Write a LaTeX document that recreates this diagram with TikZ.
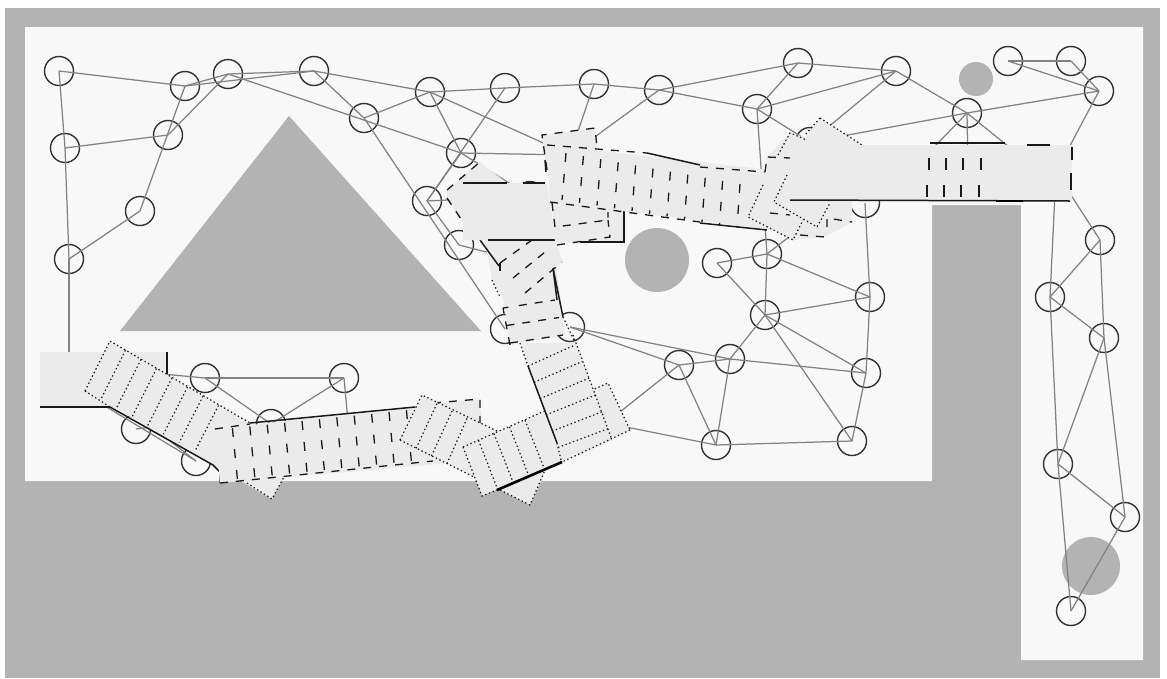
\documentclass[tikz,border=0pt]{standalone}
\usepackage{xcolor}
\definecolor{WallGray}{RGB}{179,179,179}
\definecolor{FreeGray}{RGB}{248,248,248}
\definecolor{FootGray}{RGB}{235,235,235}
\definecolor{LinkGray}{RGB}{130,130,130}
\definecolor{RingGray}{RGB}{50,50,50}
\begin{document}
\begin{tikzpicture}[x=1pt,y=-1pt,
    wp/.style={circle, draw=RingGray, line width=1.4pt, minimum size=29pt, inner sep=0pt},
    link/.style={draw=LinkGray, line width=1.25pt},
    foot/.style={fill=FootGray, draw=none},
    dotline/.style={draw=black!90, line width=1.2pt, dash pattern=on 1.4pt off 2.6pt},
    dashline/.style={draw=black!90, line width=1.3pt, dash pattern=on 8pt off 8pt},
    rungline/.style={draw=black!90, line width=1.3pt, dash pattern=on 9pt off 12pt},
    solidline/.style={draw=black!90, line width=1.5pt},
    thickline/.style={draw=black, line width=2.6pt}
  ]
  \useasboundingbox (0,0) rectangle (1167,678);
  % map
  \fill[white] (0,0) rectangle (1167,678);
  \fill[WallGray] (5,8) rectangle (1160,678);
  \fill[FreeGray] (25,27) -- (1143,27) -- (1143,660) -- (1021,660) -- (1021,205)
    -- (932,205) -- (932,481) -- (25,481) -- cycle;
  \fill[WallGray] (289,116) -- (481,331) -- (120,331) -- cycle;
  \fill[WallGray] (657,260) circle (32);
  \fill[WallGray] (976,79) circle (17);
  \fill[WallGray] (1091,566) circle (29);

  % waypoints
  \foreach \name/\x/\y in {
      a1/59/71, a2/185/86, a3/228/74, a4/314/71, a5/364/118, a6/430/92,
      a7/505/88, a8/594/84, a9/659/90, a10/757/109, a11/798/63, a12/896/71,
      a13/967/113, a14/1008/61, a15/1071/61, a16/1099/91,
      b1/65/148, b2/168/135, b3/140/211, b4/69/259,
      c1/461/153, c2/427/201, c3/459/245, c4/530/196, c5/505/329, c6/570/327,
      c7/525/262, c8/606/423, c9/570/155,
      d1/865/203, d2/767/254, d3/717/263, d4/765/315, d5/870/297, d6/866/373,
      d7/730/359, d8/679/365, d9/716/445, d10/852/441, d11/810/142, d12/830/205,
      e1/205/378, e2/344/378, e3/271/424, e4/136/429, e5/196/461,
      e8/349/432, e9/120/370,
      f1/1100/240, f2/1050/297, f3/1104/338, f4/1058/464, f5/1125/517,
      f6/1071/611, f7/1056/172, f8/910/172, f9/968/172, f10/1040/172}
    \node[wp] (\name) at (\x,\y) {};
  \coordinate (startdoor) at (69,360);
  \coordinate (doorlow) at (100,403);
  \coordinate (doorside) at (152,427);

  % connections
  \foreach \u/\v in {
      a1/a2, a1/b1, b1/b4, b4/startdoor, b1/b2, b3/b4, b3/a2, b2/a3, a2/a3, a2/a4, a3/a4,
      a3/c1, a4/a5, a4/a6, a5/a6, a5/c5, a6/a7, a6/c1, a6/c9, a7/c2, a7/a8,
      a8/a9, a8/c9, a9/a10, a9/a11, a9/c9, a10/a11, a10/a12, a10/d11, a10/d2,
      a11/a12, a12/d11, a12/a13, a13/d11, a13/a16, a13/f8, a13/f9, a13/f10,
      a14/a15, a14/a16, a15/a16, a16/f7, f7/f1, f7/f2, f1/f2, f1/f3, f2/f3,
      f2/f4, f3/f4, f3/f5, f4/f5, f4/f6, f5/f6,
      c1/c2, c1/c4, c1/c9, c2/c3, c2/c4, c3/c7, d2/d3, d3/d4, d2/d4, d2/d5, d2/d12,
      d4/d5, d4/d6, d4/d10, d4/d7, d7/d6, d7/d8, d7/d9, d8/d9, d9/d10, d10/d6,
      d6/d5, d5/d1, c6/d8, c6/d7, d8/c8, d9/c8,
      e1/e9, e1/e2, e1/e3, e2/e3, e2/e8, e4/doorside, e5/doorside, e5/doorlow}
    \draw[link] (\u.center) -- (\v.center);

  % start block, lower left
  \fill[foot] (40,352) rectangle (167,407);
  \draw[solidline] (40,407) -- (110,407);
  \draw[solidline] (167,352) -- (167,378);

  % first turn
  \fill[foot] (110,341) -- (252,424) -- (297,453) -- (272,499) -- (85,391) -- cycle;
  \draw[dotline] (85,391) -- (110,341) -- (250,423);
  \draw[dotline] (85,391) -- (110,407);
  \draw[dotline] (247,483) -- (272,499) -- (285,475);
  \draw[solidline] (110,407) -- (213,465) -- (220,472) -- (220,483);
  \foreach \i in {1,...,7}
    \draw[dotline] ({110+15.5*\i},{341+9.2*\i}) -- ({85+15.7*\i},{391+8.6*\i});

  % long lower band
  \fill[foot] (215,429) -- (480,399) -- (484,460) -- (220,483) -- cycle;
  \draw[dashline] (215,429) -- (250,424);
  \draw[solidline] (250,423) -- (415,407);
  \draw[dashline] (433,403) -- (480,399) -- (480,426);
  \draw[dashline] (220,483) -- (433,461);
  \foreach \i in {1,...,11}
    \draw[rungline] ({215+17.4*\i},{430-1.8*\i}) -- ({220+17.4*\i},{481-1.8*\i});

  % lower turn
  \fill[foot] (422,395) -- (552,458) -- (530,505) -- (400,440) -- cycle;
  \draw[dotline] (400,440) -- (422,395) -- (497,431);
  \draw[dotline] (400,440) -- (530,505) -- (545,470);
  \foreach \i in {1,2,3}
    \draw[dotline] ({422+15*\i},{396+7.5*\i}) -- ({400+15.5*\i},{442+7.5*\i});
  \fill[foot] (463,447) -- (608,383) -- (630,430) -- (482,496) -- cycle;
  \draw[dotline] (463,447) -- (608,383) -- (630,430);
  \draw[dotline] (463,447) -- (482,496) -- (497,490);
  \foreach \i in {1,...,4}
    \draw[dotline] ({463+15.5*\i},{447-6.7*\i}) -- ({482+15.5*\i},{496-7*\i});

  % band going up
  \fill[foot] (520,343) -- (577,343) -- (612,440) -- (562,462) -- cycle;
  \draw[dotline] (630,430) -- (562,462);
  \draw[thickline] (497,490) -- (562,462);
  \draw[dotline] (520,343) -- (528,366);
  \draw[solidline] (528,366) -- (557,443);
  \draw[dotline] (557,443) -- (561,460);
  \draw[dotline] (573,335) -- (612,440);
  \foreach \i in {0,...,5}
    \draw[dotline] ({528+6*\i},{366+16.3*\i}) -- ({575+7*\i},{345+16.6*\i});
  \fill[foot] (500,275) -- (556,265) -- (565,335) -- (510,345) -- cycle;
  \draw[dashline] (510,345) -- (503,308);
  \draw[solidline] (553,268) -- (563,317);
  \draw[dotline] (563,317) -- (574,340);
  \foreach \i in {0,1,2}
    \draw[dashline] ({503+3.5*\i},{308+17.5*\i}) -- ({555+4*\i},{300+17.5*\i});
  \fill[foot] (485,240) -- (555,240) -- (563,262) -- (510,310) -- (492,280) -- cycle;
  \draw[solidline] (480,240) -- (499,266);
  \draw[dotline] (492,280) -- (500,297);
  \draw[dashline] (500,263) -- (500,278);
  \draw[solidline] (553,268) -- (557,300);
  \draw[dashline] (500,263) -- (532,240);
  \draw[dashline] (513,278) -- (550,248);
  \draw[dashline] (525,293) -- (562,262);

  % second start block
  \fill[foot] (447,190) -- (480,162) -- (507,183) -- (547,183) -- (556,240) -- (463,240)
    -- (463,222) -- (447,198) -- cycle;
  \draw[dashline] (447,190) -- (480,162);
  \draw[dashline] (447,198) -- (463,222);
  \draw[solidline] (463,183) -- (507,183);
  \draw[solidline] (523,183) -- (545,183);
  \draw[solidline] (488,240) -- (556,240) -- (556,233);

  % small boxes round the long upper band
  \fill[foot] (552,202) -- (624,210) -- (624,242) -- (555,243) -- cycle;
  \draw[dashline] (552,203) -- (555,227) -- (608,220) -- (608,212);
  \draw[dashline] (557,245) -- (610,237) -- (608,220);
  \draw[solidline] (580,242) -- (624,242) -- (624,210);
  \fill[foot] (542,135) -- (595,128) -- (597,150) -- (547,170) -- cycle;
  \draw[dashline] (547,170) -- (542,135) -- (595,128) -- (597,148);

  % long upper band
  \fill[foot] (547,145) -- (770,170) -- (775,230) -- (550,202) -- cycle;
  \draw[dashline] (547,145) -- (647,153);
  \draw[solidline] (647,153) -- (700,165);
  \draw[dashline] (700,167) -- (765,172);
  \draw[dashline] (550,202) -- (700,222);
  \draw[solidline] (700,223) -- (767,230);
  \draw[solidline] (545,160) -- (546,172);
  \foreach \i in {0,...,10}
    \draw[rungline] ({566+17.4*\i},{153+3.1*\i}) -- ({562+17.5*\i},{200+2.75*\i});

  % goal block, upper right
  \fill[foot] (767,157) -- (790,133) -- (805,137) -- (820,118) -- (862,145) -- (1072,145)
    -- (1072,201) -- (852,201) -- (852,222) -- (825,237) -- (793,240) -- (748,217)
    -- (763,185) -- cycle;
  \draw[dashline] (765,172) -- (767,157) -- (790,158);
  \draw[dotline] (778,155) -- (790,133) -- (800,137);
  \draw[dotline] (800,137) -- (806,140);
  \draw[dotline] (820,118) -- (805,135);
  \draw[dotline] (820,118) -- (862,145);
  \draw[dotline] (787,175) -- (774,202) -- (817,227) -- (830,203);
  \draw[dotline] (763,185) -- (748,217) -- (793,240) -- (803,220);
  \draw[dashline] (770,213) -- (790,215);
  \draw[dashline] (827,227) -- (827,218) -- (852,222);
  \draw[dashline] (800,235) -- (825,237);
  \draw[solidline] (790,200) -- (1070,201);
  \draw[thickline] (996,201) -- (1023,201);
  \draw[solidline] (930,143) -- (1005,143);
  \draw[solidline] (1027,145) -- (1050,145);
  \draw[solidline] (1072,147) -- (1072,160);
  \draw[solidline] (1071,173) -- (1071,190);
  \foreach \x in {929,946,963,981} {
    \draw[solidline] (\x,158) -- (\x,170);
    \draw[solidline] ({\x-2},185) -- ({\x-2},197);
  }
\end{tikzpicture}
\end{document}
